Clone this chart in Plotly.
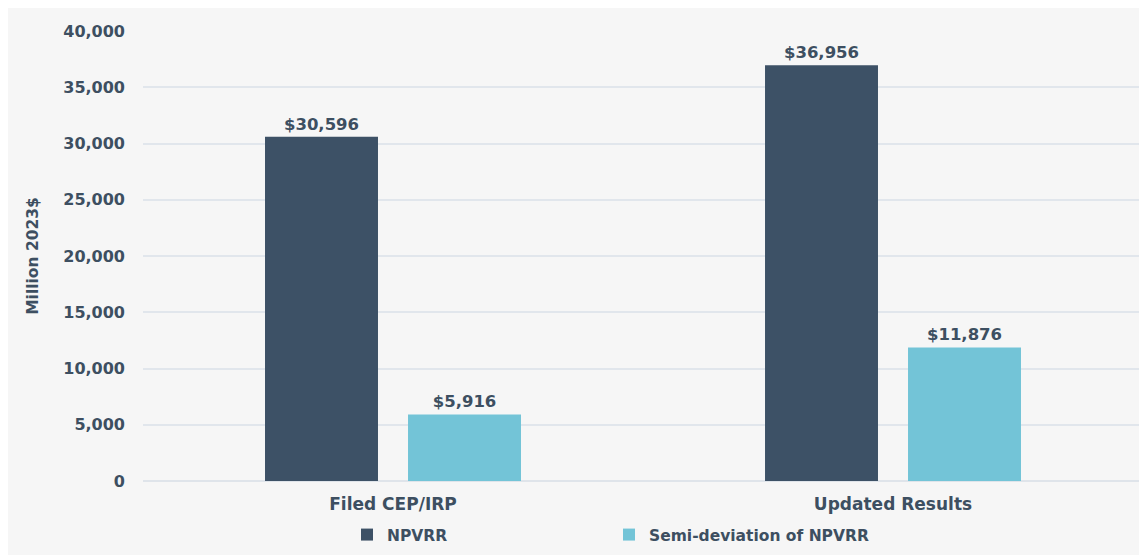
import plotly.graph_objects as go

categories = ["Filed CEP/IRP", "Updated Results"]
npvrr = [30596, 36956]
semi_dev = [5916, 11876]
series_names = ["NPVRR", "Semi-deviation of NPVRR"]
tick_vals = [0, 5000, 10000, 15000, 20000, 25000, 30000, 35000, 40000]
tick_text = ["0", "5,000", "10,000", "15,000", "20,000", "25,000", "30,000", "35,000", "40,000"]

text_color = "#3d4f61"
font_family = "'DejaVu Sans', sans-serif"

fig = go.Figure()
fig.add_trace(go.Bar(
    x=categories, y=npvrr, name=series_names[0],
    marker=dict(color="#3d5166", line=dict(width=0)),
    texttemplate="$%{y:,.0f}", textposition="outside", cliponaxis=False,
    textfont=dict(size=16.5, color=text_color, family=font_family, weight="bold"),
))
fig.add_trace(go.Bar(
    x=categories, y=semi_dev, name=series_names[1],
    marker=dict(color="#73c4d7", line=dict(width=0)),
    texttemplate="$%{y:,.0f}", textposition="outside", cliponaxis=False,
    textfont=dict(size=16.5, color=text_color, family=font_family, weight="bold"),
))

# page body has an 8px margin, so the figure is placed at (8, 8)
W, H = 1139, 551
ml, mr, mt, mb = 135, 4, 23, 78
pw = W - ml - mr
ph = H - mt - mb

fig.add_shape(
    type="rect", xref="paper", yref="paper", layer="below",
    x0=(0 - ml) / pw, x1=(1138 - ml) / pw,
    y0=((H - mb) - 547) / ph, y1=((H - mb) - 0) / ph,
    fillcolor="#f6f6f6", line=dict(width=0),
)

fig.update_layout(
    width=W, height=H,
    margin=dict(l=ml, r=mr, t=mt, b=mb, autoexpand=False),
    paper_bgcolor="white", plot_bgcolor="rgba(0,0,0,0)",
    barmode="group", bargap=0.428, bargroupgap=0.21,
    font=dict(family=font_family, color=text_color, size=16),
    showlegend=True,
    legend=dict(
        orientation="h", x=0.204, xanchor="left",
        y=-0.12, yanchor="middle",
        entrywidth=217, entrywidthmode="pixels",
        font=dict(size=15.5, color=text_color, family=font_family, weight="bold"),
        bgcolor="rgba(0,0,0,0)", itemwidth=30,
    ),
    xaxis=dict(
        tickfont=dict(size=17, color=text_color, family=font_family, weight="bold"),
        showgrid=False, showline=False, zeroline=False, ticks="",
        ticklabelstandoff=11,
    ),
    yaxis=dict(
        range=[0, 40000], tickvals=tick_vals, ticktext=tick_text,
        tickfont=dict(size=16, color=text_color, family=font_family, weight="bold"),
        showgrid=True, gridcolor="#e1e6ec", gridwidth=1.5,
        zeroline=True, zerolinecolor="#dfe4ea", zerolinewidth=1.5,
        showline=False, ticks="", ticklabelstandoff=17,
        title=dict(text="Million 2023$", standoff=20,
                   font=dict(size=15.5, color=text_color, family=font_family, weight="bold")),
    ),
)

fig.write_html("out.html")
